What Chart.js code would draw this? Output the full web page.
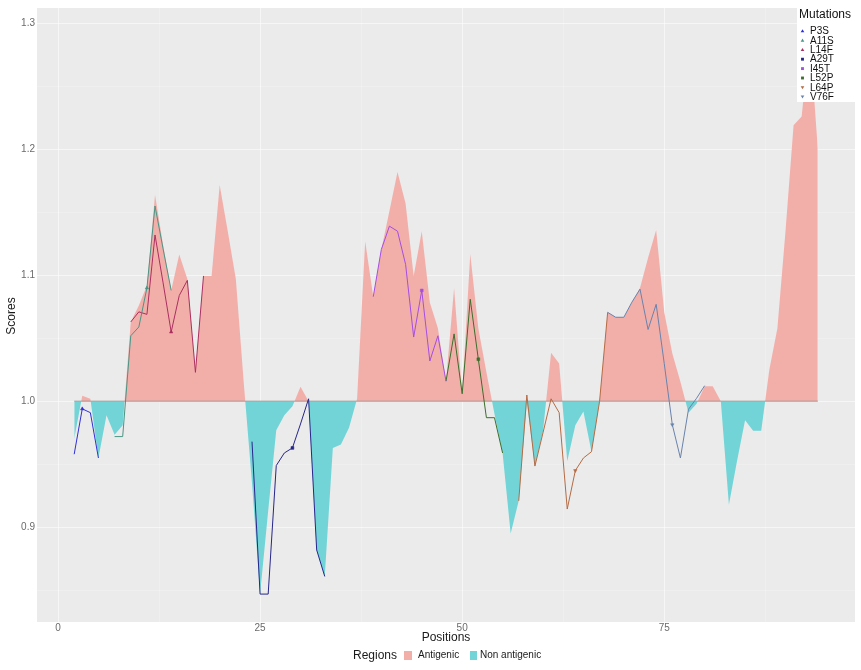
<!DOCTYPE html>
<html>
<head>
<meta charset="utf-8">
<script src="https://cdn.jsdelivr.net/npm/chart.js@4.4.0/dist/chart.umd.min.js"></script>
<style>
html, body { margin: 0; padding: 0; background: #fff; }
</style>
</head>
<body>
<canvas id="grafico" width="861" height="670"></canvas>
<script>
const posiciones = [2, 3, 4, 5, 6, 7, 8, 9, 10, 11, 12, 13, 14, 15, 16, 17, 18, 19, 20, 21,
    22, 23, 24, 25, 26, 27, 28, 29, 30, 31, 32, 33, 34, 35, 36, 37, 38, 39, 40, 41,
    42, 43, 44, 45, 46, 47, 48, 49, 50, 51, 52, 53, 54, 55, 56, 57, 58, 59, 60, 61,
    62, 63, 64, 65, 66, 67, 68, 69, 70, 71, 72, 73, 74, 75, 76, 77, 78, 79, 80, 81,
    82, 83, 84, 85, 86, 87, 88, 89, 90, 91, 92, 93, 94];
const puntajes = [0.970, 1.0045, 1.002, 0.955, 0.989, 0.9735, 0.981, 1.063, 1.076, 1.092,
    1.164, 1.124, 1.088, 1.1165, 1.097, 1.0234, 1.0995, 1.0995, 1.1717, 1.135,
    1.097, 1.013, 0.935, 0.847, 0.913, 0.977, 0.989, 0.996, 1.0116, 1.0,
    0.882, 0.861, 0.963, 0.9657, 0.979, 1.002, 1.127, 1.083, 1.1205, 1.151,
    1.182, 1.157, 1.0995, 1.135, 1.0785, 1.058, 1.016, 1.09, 1.006, 1.117,
    1.058, 1.023, 0.990, 0.959, 0.895, 0.921, 0.999, 0.9486, 0.976, 1.0386,
    1.03, 0.9525, 0.981, 0.992, 0.96, 1.0, 1.0706, 1.0667, 1.0667, 1.0787,
    1.09, 1.114, 1.136, 1.0706, 1.038, 1.0155, 0.991, 0.998, 1.012, 1.012,
    1.0, 0.918, 0.9525, 0.985, 0.9767, 0.9767, 1.025, 1.058, 1.135, 1.219,
    1.226, 1.29, 1.2];

const mutaciones = ["P3S", "A11S", "L14F", "A29T", "I45T", "L52P", "L64P", "V76F"];
const sitios = [3, 11, 14, 29, 45, 52, 64, 76];
const inicios = [2, 7, 9, 24, 39, 48, 57, 68];
const p3s = [0.958, 0.994, 0.991, 0.955];
const a11s = [0.972, 0.972, 1.052, 1.059, 1.090, 1.155, 1.121, 1.088];
const l14f = [1.063, 1.071, 1.069, 1.132, 1.094, 1.055, 1.084, 1.096, 1.023, 1.0995];
const a29t = [0.968, 0.847, 0.847, 0.949, 0.959, 0.963, 0.982, 1.002, 0.882, 0.861];
const i45t = [1.083, 1.1205, 1.139, 1.135, 1.1087, 1.051, 1.088, 1.032, 1.052, 1.016];
const l52p = [1.016, 1.0535, 1.006, 1.081, 1.0334, 0.987, 0.987, 0.959];
const l64p = [0.921, 1.005, 0.9486, 0.975, 1.002, 0.991, 0.9145, 0.945, 0.955, 0.96, 1.0, 1.0706];
const v76f = [1.0706, 1.0667, 1.0667, 1.0787, 1.089, 1.057, 1.077, 1.03, 0.9814, 0.955, 0.9937, 1.0024, 1.0124];
const series = [p3s, a11s, l14f, a29t, i45t, l52p, l64p, v76f];

const regiones = ["Antigenic", "Non antigenic"];
const marcasX = [0, 12.5, 25, 37.5, 50, 62.5, 75, 87.5];
const etiquetasX = [0, 25, 50, 75];
const marcasY = [0.85, 0.9, 0.95, 1.0, 1.05, 1.1, 1.15, 1.2, 1.25, 1.3];
const etiquetasY = [0.9, 1.0, 1.1, 1.2, 1.3];

const colores = ["#2f2fd6", "#4a9585", "#ab2f5f", "#26268a", "#a54ee0", "#3c6e2c", "#b56b45", "#6983ad"];
const formas = ["triangle", "triangle", "triangle", "rect", "rect", "rect", "triangle", "triangle"];
const giros = [0, 0, 0, 0, 0, 0, 180, 180];
const rojo = "#F2AFAA";
const turquesa = "#72D4D6";
const fuente = '"Liberation Sans", Arial, sans-serif';

const esMayor = (v, lista) => lista.some((m) => Math.abs(m - v) < 1e-6);

const conjuntos = [{
    data: posiciones.map((x, i) => ({ x: x, y: puntajes[i] })),
    borderWidth: 0,
    borderColor: "rgba(0,0,0,0)",
    pointRadius: 0,
    fill: { target: { value: 1 }, above: rojo, below: turquesa },
    order: 20,
}, {
    data: [{ x: posiciones[0], y: 1 }, { x: posiciones[posiciones.length - 1], y: 1 }],
    borderColor: "rgba(150,140,140,0.55)",
    borderWidth: 1.6,
    pointRadius: 0,
    fill: false,
    order: 19,
}];

series.forEach((valores, k) => {
    conjuntos.push({
        label: mutaciones[k],
        data: valores.map((y, i) => ({ x: inicios[k] + i, y: y })),
        borderColor: colores[k],
        backgroundColor: colores[k],
        borderWidth: 1,
        fill: false,
        pointStyle: formas[k],
        rotation: giros[k],
        pointRadius: (c) => (c.raw && c.raw.x === sitios[k] ? 2 : 0),
        pointBorderWidth: 0.5,
        order: k + 1,
    });
});

function simbolo(ctx, forma, giro, x, y, r, color) {
    ctx.fillStyle = color;
    ctx.beginPath();
    if (forma === "rect") {
        ctx.rect(x - r * 0.8, y - r * 0.8, r * 1.6, r * 1.6);
    } else if (giro === 180) {
        ctx.moveTo(x - r, y - r * 0.7);
        ctx.lineTo(x + r, y - r * 0.7);
        ctx.lineTo(x, y + r);
    } else {
        ctx.moveTo(x - r, y + r * 0.7);
        ctx.lineTo(x + r, y + r * 0.7);
        ctx.lineTo(x, y - r);
    }
    ctx.closePath();
    ctx.fill();
}

const decorado = {
    id: "decorado",
    beforeDraw(chart) {
        const { ctx, chartArea: a } = chart;
        ctx.save();
        ctx.fillStyle = "#ffffff";
        ctx.fillRect(0, 0, chart.width, chart.height);
        ctx.fillStyle = "#EBEBEB";
        ctx.fillRect(a.left, a.top, a.right - a.left, a.bottom - a.top);
        ctx.restore();
    },
    afterDraw(chart) {
        const ctx = chart.ctx;
        ctx.save();
        ctx.fillStyle = "#1a1a1a";
        ctx.textBaseline = "middle";
        ctx.font = "12px " + fuente;
        ctx.textAlign = "center";
        ctx.fillText("Positions", 446, 638);
        ctx.save();
        ctx.translate(12, 316);
        ctx.rotate(-Math.PI / 2);
        ctx.fillText("Scores", 0, 0);
        ctx.restore();

        ctx.textAlign = "left";
        ctx.fillText("Regions", 353, 656);
        ctx.font = "10px " + fuente;
        ctx.fillStyle = rojo;
        ctx.fillRect(404, 651, 8, 9);
        ctx.fillStyle = turquesa;
        ctx.fillRect(470, 651, 7, 9);
        ctx.fillStyle = "#1a1a1a";
        ctx.fillText(regiones[0], 418, 655.5);
        ctx.fillText(regiones[1], 480, 655.5);

        ctx.fillStyle = "#ffffff";
        ctx.fillRect(797, 4, 58, 98);
        ctx.fillStyle = "#111111";
        ctx.font = "12px " + fuente;
        ctx.fillText("Mutations", 799, 15);
        ctx.font = "10px " + fuente;
        mutaciones.forEach((m, k) => {
            const y = 31 + k * 9.4;
            simbolo(ctx, formas[k], giros[k], 802.5, y, 1.8, colores[k]);
            ctx.fillStyle = "#111111";
            ctx.fillText(m, 810, y + 0.5);
        });
        ctx.restore();
    },
};

new Chart(document.querySelector("#grafico").getContext("2d"), {
    type: "line",
    data: { datasets: conjuntos },
    plugins: [decorado],
    options: {
        responsive: false,
        animation: false,
        events: [],
        layout: { padding: { left: 0, right: 6, top: 4, bottom: 0 } },
        elements: { line: { tension: 0 } },
        plugins: {
            legend: { display: false },
            tooltip: { enabled: false },
        },
        scales: {
            x: {
                type: "linear",
                min: -2.6,
                max: 98.6,
                afterBuildTicks: (s) => { s.ticks = marcasX.map((v) => ({ value: v })); },
                afterFit: (s) => { s.height = 48; },
                ticks: {
                    autoSkip: false,
                    maxRotation: 0,
                    padding: 0,
                    color: "#6b6b6b",
                    font: { size: 10, family: fuente },
                    callback: (v) => (esMayor(v, etiquetasX) ? String(v) : ""),
                },
                grid: {
                    drawTicks: false,
                    color: (c) => (esMayor(c.tick.value, etiquetasX) ? "rgba(255,255,255,0.55)" : "rgba(255,255,255,0.3)"),
                    lineWidth: (c) => (esMayor(c.tick.value, etiquetasX) ? 1 : 0.7),
                },
                border: { display: false },
            },
            y: {
                type: "linear",
                min: 0.82485,
                max: 1.31215,
                afterBuildTicks: (s) => { s.ticks = marcasY.map((v) => ({ value: v })); },
                afterFit: (s) => { s.width = 37; },
                ticks: {
                    autoSkip: false,
                    padding: 2,
                    color: "#6b6b6b",
                    font: { size: 10, family: fuente },
                    callback: (v) => (esMayor(v, etiquetasY) ? v.toFixed(1) : ""),
                },
                grid: {
                    drawTicks: false,
                    color: (c) => (esMayor(c.tick.value, etiquetasY) ? "rgba(255,255,255,0.55)" : "rgba(255,255,255,0.3)"),
                    lineWidth: (c) => (esMayor(c.tick.value, etiquetasY) ? 1 : 0.7),
                },
                border: { display: false },
            },
        },
    },
});
</script>
</body>
</html>
